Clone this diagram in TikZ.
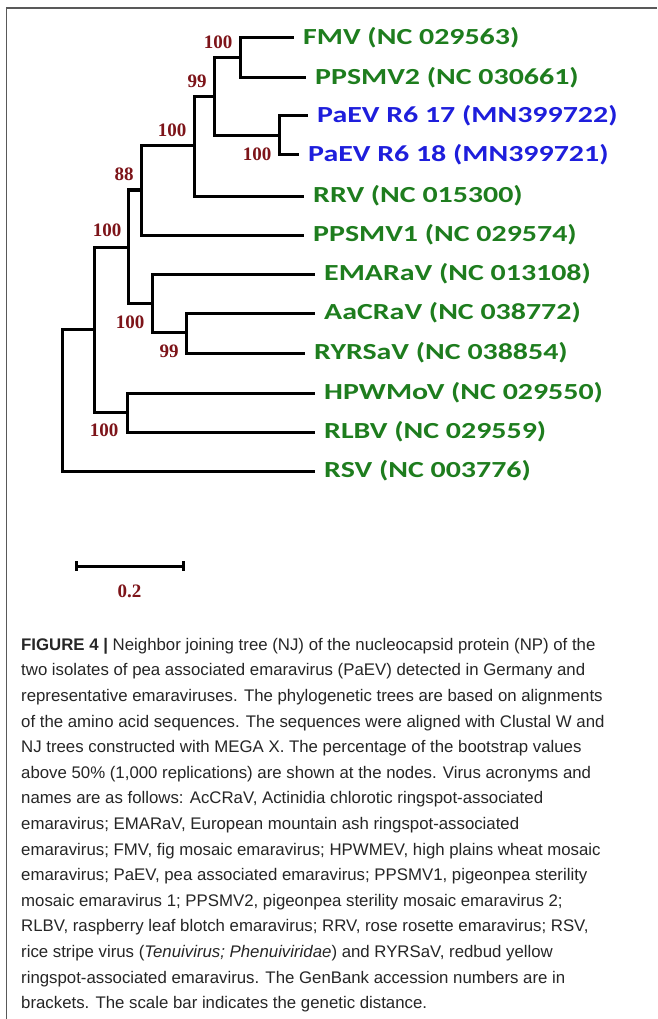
\documentclass[tikz,border=0pt]{standalone}
\usepackage{fontspec}
\setmainfont{Liberation Sans}
\newfontfamily\leaffont[FakeStretch=1.3]{Carlito}
\newfontfamily\bootfont{Liberation Serif}
\usetikzlibrary{positioning}

\definecolor{bootred}{RGB}{125,20,25}
\definecolor{leafgreen}{RGB}{30,125,30}
\definecolor{leafblue}{RGB}{30,30,220}

\begin{document}
\begin{tikzpicture}[x=1pt, y=-1pt]
        \tikzstyle{branch} = [line width=3pt, line cap=rect, black]
        \tikzstyle{leaf} = [anchor=west, inner xsep=11pt, inner ysep=0pt, font=\leaffont\bfseries\fontsize{23}{27}\selectfont, text=leafgreen]
        \tikzstyle{paev} = [leaf, text=leafblue]
        \tikzstyle{boot} = [inner sep=0pt, font=\bootfont\bfseries\fontsize{19}{22}\selectfont, text=bootred]

        \path [use as bounding box, fill=white] (0,0) rectangle (657,1019);
        \draw [line width=1.5pt, black!65] (6.5,1019) -- (6.5,8) -- (657,8);

        % inner nodes of the tree
        \coordinate (root) at (62,329);
        \coordinate (nG) at (94,329);
        \coordinate (nF) at (128.5,247);
        \coordinate (nD) at (141,190);
        \coordinate (nC) at (194,146);
        \coordinate (nB) at (214,97);
        \coordinate (nA) at (240,58);
        \coordinate (nP) at (279,136);
        \coordinate (nE) at (152,303);
        \coordinate (nR) at (186,332);
        \coordinate (nH) at (127,412);

        % leaves
        \node (fmv) [leaf] at (292,38) {FMV (NC 029563)};
        \node (ppsmv2) [leaf] at (304,78) {PPSMV2 (NC 030661)};
        \node (paev17) [paev] at (306,116) {PaEV R6 17 (MN399722)};
        \node (paev18) [paev] at (297,155) {PaEV R6 18 (MN399721)};
        \node (rrv) [leaf] at (302,196) {RRV (NC 015300)};
        \node (ppsmv1) [leaf] at (302,235) {PPSMV1 (NC 029574)};
        \node (emarav) [leaf] at (313,274) {EMARaV (NC 013108)};
        \node (aacrav) [leaf] at (313,313) {AaCRaV (NC 038772)};
        \node (ryrsav) [leaf] at (303,353) {RYRSaV (NC 038854)};
        \node (hpwmov) [leaf] at (313,393) {HPWMoV (NC 029550)};
        \node (rlbv) [leaf] at (313,432) {RLBV (NC 029559)};
        \node (rsv) [leaf] at (313,471) {RSV (NC 003776)};

        % bootstrap values
        \node (bA) [boot] at (218,42) {100};
        \node (bB) [boot] at (197,81) {99};
        \node (bC) [boot] at (172,130) {100};
        \node (bP) [boot] at (257,154) {100};
        \node (bD) [boot] at (124,174) {88};
        \node (bF) [boot] at (107,230) {100};
        \node (bE) [boot] at (130,322) {100};
        \node (bR) [boot] at (169,351) {99};
        \node (bH) [boot] at (104,430) {100};

        % branches
        \draw [branch] (root) |- (nG);
        \draw [branch] (root) |- (rsv.west);
        \draw [branch] (nG) |- (nF);
        \draw [branch] (nG) |- (nH);
        \draw [branch] (nF) |- (nD);
        \draw [branch] (nF) |- (nE);
        \draw [branch] (nD) |- (nC);
        \draw [branch] (nD) |- (ppsmv1.west);
        \draw [branch] (nC) |- (nB);
        \draw [branch] (nC) |- (rrv.west);
        \draw [branch] (nB) |- (nA);
        \draw [branch] (nB) |- (nP);
        \draw [branch] (nA) |- (fmv.west);
        \draw [branch] (nA) |- (ppsmv2.west);
        \draw [branch] (nP) |- (paev17.west);
        \draw [branch] (nP) |- (paev18.west);
        \draw [branch] (nE) |- (emarav.west);
        \draw [branch] (nE) |- (nR);
        \draw [branch] (nR) |- (aacrav.west);
        \draw [branch] (nR) |- (ryrsav.west);
        \draw [branch] (nH) |- (hpwmov.west);
        \draw [branch] (nH) |- (rlbv.west);

        % scale bar
        \coordinate (sbl) at (76,566);
        \coordinate (sbr) at (183,566);
        \coordinate (sbmid) at (129.5,566);
        \draw [line width=3pt] (sbl) -- (sbr);
        \draw [line width=3pt] (sbl) ++(0,-5) -- ++(0,10);
        \draw [line width=3pt] (sbr) ++(0,-5) -- ++(0,10);
        \node (sclabel) [boot, below=19pt of sbmid] {0.2};

        % caption
        \node (caption) [anchor=north west, inner sep=0pt, align=left, text=black!85, font=\fontsize{16.8}{25.6}\selectfont] at (21,638) {%
          \textbf{FIGURE 4 |} Neighbor joining tree (NJ) of the nucleocapsid protein (NP) of the\\
          two isolates of pea associated emaravirus (PaEV) detected in Germany and\\
          representative emaraviruses. The phylogenetic trees are based on alignments\\
          of the amino acid sequences. The sequences were aligned with Clustal W and\\
          NJ trees constructed with MEGA X. The percentage of the bootstrap values\\
          above 50\% (1,000 replications) are shown at the nodes. Virus acronyms and\\
          names are as follows: AcCRaV, Actinidia chlorotic ringspot-associated\\
          emaravirus; EMARaV, European mountain ash ringspot-associated\\
          emaravirus; FMV, fig mosaic emaravirus; HPWMEV, high plains wheat mosaic\\
          emaravirus; PaEV, pea associated emaravirus; PPSMV1, pigeonpea sterility\\
          mosaic emaravirus 1; PPSMV2, pigeonpea sterility mosaic emaravirus 2;\\
          RLBV, raspberry leaf blotch emaravirus; RRV, rose rosette emaravirus; RSV,\\
          rice stripe virus (\textit{Tenuivirus; Phenuiviridae}) and RYRSaV, redbud yellow\\
          ringspot-associated emaravirus. The GenBank accession numbers are in\\
          brackets. The scale bar indicates the genetic distance.};
\end{tikzpicture}
\end{document}
